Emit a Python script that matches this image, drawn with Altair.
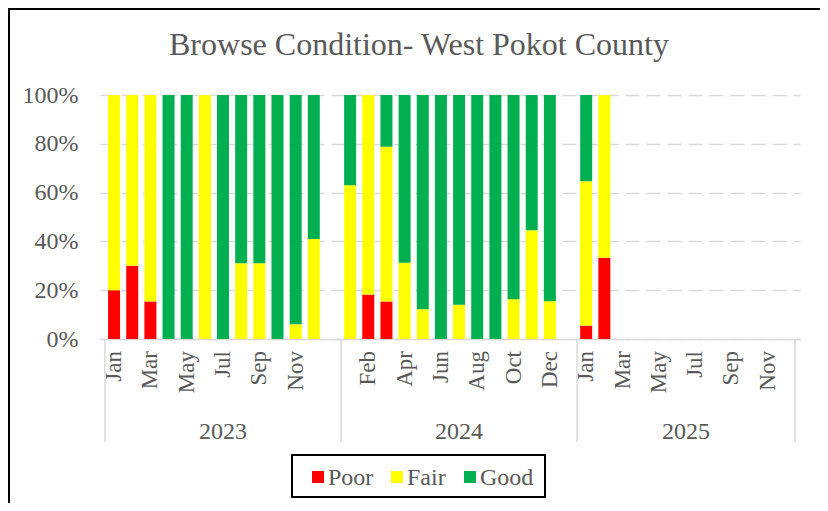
import altair as alt
import pandas as pd

# ---- data ----
months = ["Jan", "Feb", "Mar", "Apr", "May", "Jun", "Jul", "Aug", "Sep", "Oct", "Nov", "Dec"]
years = ["2023", "2024", "2025"]
conditions = ["Poor", "Fair", "Good"]
colors = ["#FF0000", "#FFFF00", "#00B050"]
title_text = "Browse Condition- West Pokot County"

poor_2023 = [20, 30, 15.4, 0, 0, 0, 0, 0, 0, 0, 0, 0]
fair_2023 = [80, 70, 84.6, 0, 0, 100, 0, 31, 31, 0, 6, 41]
good_2023 = [0, 0, 0, 100, 100, 0, 100, 69, 69, 100, 94, 59]

poor_2024 = [0, 18.2, 15.4, 0, 0, 0, 0, 0, 0, 0, 0, 0]
fair_2024 = [63, 81.8, 63.4, 31.3, 12.2, 0, 14, 0, 0, 16.3, 44.6, 15.5]
good_2024 = [37, 0, 21.2, 68.7, 87.8, 100, 86, 100, 100, 83.7, 55.4, 84.5]

poor_2025 = [5.5, 33.3]
fair_2025 = [59.2, 66.7]
good_2025 = [35.3, 0]

# category slots: 2023 -> 12 months + 1 blank, 2024 -> 12 months + 1 blank, 2025 -> 12 months
year_start = [0, 13, 26]
year_slots = [13, 13, 12]
n_slots = 38

slot_labels = [""] * n_slots
for yi, start in enumerate(year_start):
    for m in range(12):
        slot_labels[start + m] = months[m]

rows = []
series = {
    "2023": (poor_2023, fair_2023, good_2023),
    "2024": (poor_2024, fair_2024, good_2024),
    "2025": (poor_2025, fair_2025, good_2025),
}
for yi, y in enumerate(years):
    p, f, g = series[y]
    for m in range(len(p)):
        pos = year_start[yi] + m + 0.5
        for ci, (c, vals) in enumerate(zip(conditions, (p, f, g))):
            rows.append({"pos": pos, "cond": c, "ord": ci, "value": vals[m],
                         "label": f"{months[m]} {y}"})
df = pd.DataFrame(rows)

# month labels: every second category slot across the whole axis
mlab_df = pd.DataFrame([{"pos": i + 0.5, "m": slot_labels[i]}
                        for i in range(0, n_slots, 2) if slot_labels[i]])

sep_df = pd.DataFrame({"x": [0, 13, 26, 38]})
year_df = pd.DataFrame({"x": [s + n / 2 for s, n in zip(year_start, year_slots)], "year": years})

W, H = 700, 244
FONT = "Liberation Serif"
GREY = "#595959"
LINE = "#D9D9D9"

xscale = alt.Scale(domain=[0, n_slots], nice=False, zero=False)
cscale = alt.Scale(domain=conditions, range=colors)

bars = alt.Chart(df).mark_bar(size=12).encode(
    x=alt.X("pos:Q", scale=xscale,
            axis=alt.Axis(title=None, labels=False, ticks=False, grid=False,
                          domainColor=LINE, domainWidth=1.5)),
    y=alt.Y("value:Q", stack="zero", scale=alt.Scale(domain=[0, 100], nice=False),
            axis=alt.Axis(title=None, values=[0, 20, 40, 60, 80, 100],
                          labelExpr="datum.value + '%'", ticks=False, domain=False,
                          grid=True, gridColor=LINE, gridDash=[14, 7], gridWidth=1.5,
                          labelPadding=22, labelFont=FONT, labelFontSize=24,
                          labelColor=GREY)),
    color=alt.Color("cond:N", scale=cscale, legend=None),
    order=alt.Order("ord:Q", sort="ascending"),
    tooltip=["label:N", "cond:N", "value:Q"],
)

month_text = alt.Chart(mlab_df).mark_text(
    font=FONT, fontSize=23, color=GREY, angle=270, align="right", baseline="middle"
).encode(
    x=alt.X("pos:Q", scale=xscale),
    y=alt.value(H + 12),
    text="m:N",
)

seps = alt.Chart(sep_df).mark_rule(color=LINE, strokeWidth=1.5).encode(
    x=alt.X("x:Q", scale=xscale),
    y=alt.value(H),
    y2=alt.value(H + 103),
)

year_text = alt.Chart(year_df).mark_text(
    font=FONT, fontSize=24, color=GREY, baseline="alphabetic", align="center"
).encode(
    x=alt.X("x:Q", scale=xscale),
    y=alt.value(H + 100),
    text="year:N",
)

title = alt.Chart(pd.DataFrame({"t": [title_text]})).mark_text(
    font=FONT, fontSize=32, color=GREY, baseline="alphabetic", align="center"
).encode(
    x=alt.value(W / 2 - 31),
    y=alt.value(-40),
    text="t:N",
)

frame = alt.Chart(pd.DataFrame({"a": [0]})).mark_rect(
    fillOpacity=0, stroke="black", strokeWidth=2
).encode(
    x=alt.value(-91), x2=alt.value(W + 200),
    y=alt.value(-86), y2=alt.value(H + 300),
)

# ---- legend (boxed, centred under the chart) ----
LEG_X0, LEG_X1, LEG_Y0, LEG_Y1 = 192, 445, 360, 402
legend_item_x = [212, 291, 364]   # left edge of each swatch (layout)
SW = 12
leg_layers = [
    alt.Chart(pd.DataFrame({"a": [0]})).mark_rect(
        fill="white", stroke="black", strokeWidth=2
    ).encode(x=alt.value(LEG_X0), x2=alt.value(LEG_X1),
             y=alt.value(LEG_Y0), y2=alt.value(LEG_Y1))
]
for c, lx in zip(conditions, legend_item_x):
    one = pd.DataFrame({"cond": [c]})
    leg_layers.append(
        alt.Chart(one).mark_rect().encode(
            x=alt.value(lx), x2=alt.value(lx + SW),
            y=alt.value(382 - SW / 2), y2=alt.value(382 + SW / 2),
            color=alt.Color("cond:N", scale=cscale, legend=None),
        )
    )
    leg_layers.append(
        alt.Chart(one).mark_text(
            font=FONT, fontSize=24, color=GREY, align="left", baseline="alphabetic"
        ).encode(x=alt.value(lx + SW + 4), y=alt.value(390), text="cond:N")
    )

chart = alt.layer(frame, bars, month_text, seps, year_text, title, *leg_layers).properties(
    width=W, height=H,
    autosize=alt.AutoSizeParams(type="none"),
    padding={"left": 92, "top": 87, "right": 20, "bottom": 164},
).configure_view(stroke=None)

chart.save("out.html", embed_options={"renderer": "svg", "actions": False})
